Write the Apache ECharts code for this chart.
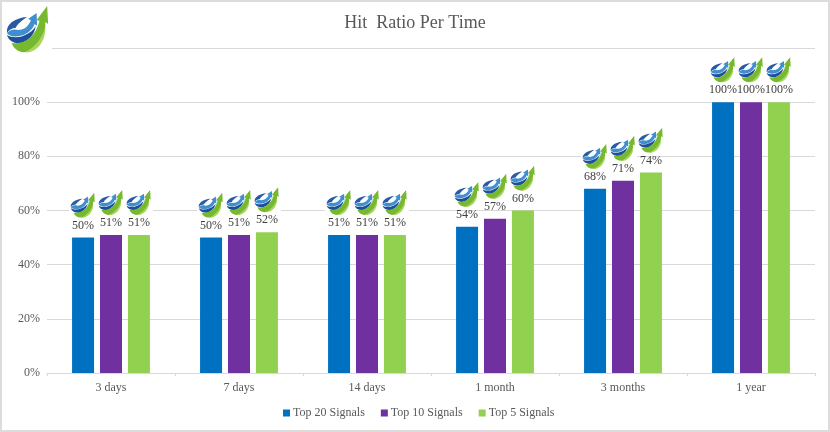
<!DOCTYPE html>
<html>
<head>
<meta charset="utf-8">
<title>Hit Ratio Per Time</title>
<script src="https://cdn.jsdelivr.net/npm/echarts@6/dist/echarts.min.js"></script>
<style>
html, body { margin: 0; padding: 0; background: #fff; }
#chart { width: 830px; height: 432px; box-sizing: border-box; border: 2px solid #dcdcdc; }
</style>
</head>
<body>
<div id="chart"></div>
<script>
var categories = ['3 days', '7 days', '14 days', '1 month', '3 months', '1 year'];
var top20 = [50, 50, 51, 54, 68, 100];
var top10 = [51, 51, 51, 57, 71, 100];
var top5 = [51, 52, 51, 60, 74, 100];

var textColor = '#595959';
var gridColor = '#d9d9d9';
var fontName = '"Liberation Serif", serif';

// company logo, blue ball with green arrow
function logoSvg() {
    var svg = '<svg xmlns="http://www.w3.org/2000/svg" width="208" height="216" viewBox="2 2 50 52">' +
        '<rect x="2" y="2" width="50" height="52" fill="#fff"/>' +
        '<path d="M5 33 C4 24 13 18 26 17 C21 20 16 24 14 28 C10 28 7 30 5 33Z" fill="#2a5aa6"/>' +
        '<path d="M5 33 C9 29 13 29 17 30 C23 30 28 26 30 20 L27 19 L36 13 L36.5 26 L34 24 C31 31 25 35 18 36 C12 37 7 36 5 33Z" fill="#3f8fd0"/>' +
        '<path d="M5 35 C10 38 18 38 24 35 C29 33 33 30 35 26 C34 35 27 41 20 43 C13 44 7 41 5 35Z" fill="#1d4f9c"/>' +
        '<path d="M10 43 C24 45 35 36 39 21 L36 20 L47 6 L48 24 L45 22 C46 36 38 50 25 52 C18 53 12 49 10 43Z" fill="#76b82f"/>' +
        '<path d="M24 52 C33 48 41 40 45 27 C46 39 38 50 29 52 C27 52.5 25 52.5 24 52Z" fill="#a9d65a"/>' +
        '</svg>';
    return 'data:image/svg+xml;charset=utf-8,' + encodeURIComponent(svg);
}

var logoImage = logoSvg();

function barSeries(name, values, color) {
    return {
        name: name,
        type: 'bar',
        data: values,
        barWidth: 22,
        barGap: '27%',
        itemStyle: { color: color },
        label: {
            show: true,
            position: 'top',
            distance: 5,
            formatter: function (p) {
                return '{logo|}\n{val|' + p.value + '%}';
            },
            rich: {
                logo: {
                    width: 28,
                    height: 28,
                    align: 'center',
                    backgroundColor: { image: logoImage }
                },
                val: {
                    fontFamily: fontName,
                    fontSize: 12,
                    color: '#404040',
                    lineHeight: 14,
                    align: 'center'
                }
            }
        }
    };
}

var myChart = echarts.init(document.getElementById('chart'), null, { renderer: 'canvas' });
myChart.setOption({
    animation: false,
    title: {
        text: 'Hit  Ratio Per Time',
        left: 'center',
        top: 7,
        textStyle: { fontFamily: fontName, fontSize: 18, fontWeight: 'normal', color: textColor }
    },
    legend: {
        data: ['Top 20 Signals', 'Top 10 Signals', 'Top 5 Signals'],
        left: 276,
        top: 400,
        icon: 'rect',
        itemWidth: 7,
        itemHeight: 7,
        itemGap: 16,
        textStyle: { fontFamily: fontName, fontSize: 12, color: textColor, padding: [0, 0, 0, -2] }
    },
    grid: { left: 45, right: 13, top: 46, bottom: 57, containLabel: false },
    xAxis: {
        type: 'category',
        data: categories,
        axisLine: { lineStyle: { color: gridColor } },
        axisTick: { show: true, length: 3, alignWithLabel: false, lineStyle: { color: gridColor } },
        axisLabel: { fontFamily: fontName, fontSize: 12, color: textColor, margin: 9 }
    },
    yAxis: {
        type: 'value',
        min: 0,
        max: 120,
        interval: 20,
        axisLine: { show: false },
        axisTick: { show: false },
        splitLine: { lineStyle: { color: gridColor } },
        axisLabel: {
            fontFamily: fontName,
            fontSize: 12,
            color: textColor,
            margin: 7,
            formatter: function (v) { return v > 100 ? '' : v + '%'; }
        }
    },
    graphic: [
        { type: 'image', left: 2, top: 0, style: { image: logoImage, width: 48, height: 52 }, z: 100 }
    ],
    series: [
        barSeries('Top 20 Signals', top20, '#0070c0'),
        barSeries('Top 10 Signals', top10, '#7030a0'),
        barSeries('Top 5 Signals', top5, '#92d050')
    ]
});

window.addEventListener('resize', function () {
    myChart.resize();
});
</script>
</body>
</html>
